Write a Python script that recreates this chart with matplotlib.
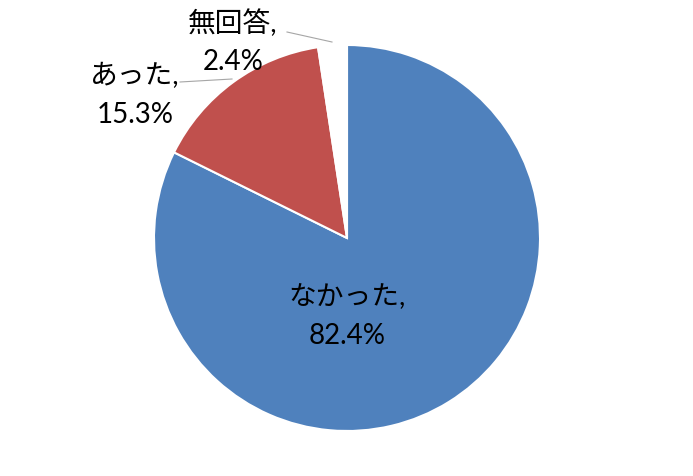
import matplotlib.pyplot as plt

# Data
labels = ['なかった', 'あった', '無回答']
values = [82.4, 15.3, 2.4]
colors = ['#4F81BD', '#C0504D', '#FFFFFF']

plt.rcParams['font.family'] = ['Lato', 'Noto Sans CJK JP', 'DejaVu Sans']

fig = plt.figure(figsize=(6.93, 4.77), dpi=100)
r_px = 193
cx, cy = 347, 239
ax = fig.add_axes([(cx - r_px) / 693, (477 - cy - r_px) / 477, 2 * r_px / 693, 2 * r_px / 477])

wedges, _ = ax.pie(values, colors=colors, startangle=90, counterclock=False,
                   wedgeprops=dict(edgecolor='white', linewidth=1.5))
ax.set_xlim(-1, 1)
ax.set_ylim(-1, 1)
ax.set_aspect('equal')
ax.axis('off')

# Label positions (in pie radius units)
label_pos = [(0.0, -0.40), (-1.098, 0.745), (-0.59, 1.02)]
for lab, val, (x, y) in zip(labels, values, label_pos):
    ax.text(x, y, f'{lab},\n{val:.1f}%', ha='center', va='center',
            fontsize=20, linespacing=1.6, clip_on=False)

# Leader lines
ax.plot([(180 - cx) / r_px, (232 - cx) / r_px], [(cy - 83) / r_px, (cy - 80) / r_px],
        color='#A6A6A6', lw=0.8, clip_on=False)
ax.plot([(287 - cx) / r_px, (332 - cx) / r_px], [(cy - 33) / r_px, (cy - 43) / r_px],
        color='#A6A6A6', lw=0.8, clip_on=False)

plt.savefig('out.png', dpi=100)
